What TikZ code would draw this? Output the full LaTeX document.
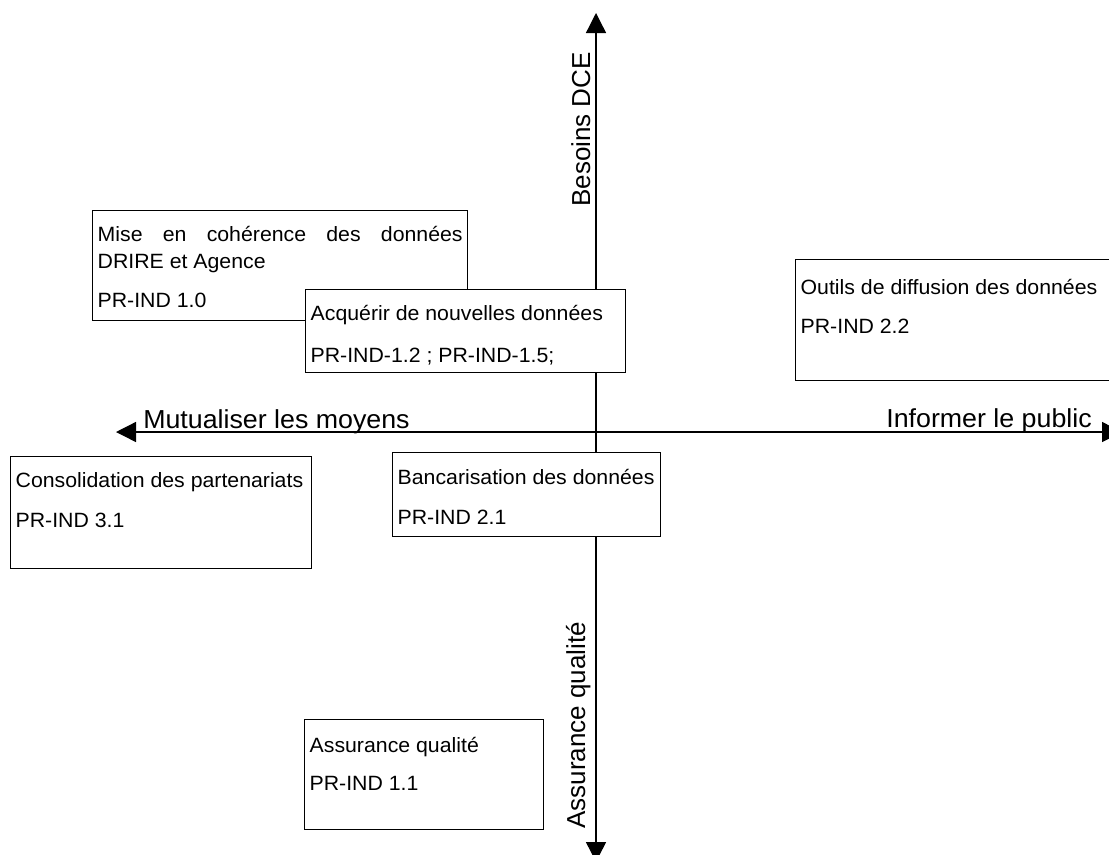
\documentclass[tikz,border=0pt]{standalone}
\usepackage{fontspec}
\setmainfont{Liberation Sans}
\newfontfamily\largefont[FakeStretch=1.03]{Liberation Sans}
\usepackage{tikz}
\usetikzlibrary{arrows.meta}

\newlength{\pxu}
\setlength{\pxu}{0.75pt}
% text block of a box: width, height, first baseline, lines
\newcommand{\cadretexte}[4]{\begin{minipage}[t][#2\pxu][t]{#1\pxu}\rule{0pt}{#3\pxu}#4\end{minipage}}

\begin{document}
\begin{tikzpicture}[
                x=0.75pt, y=-0.75pt, % pixel grid, y going down
                axe/.style={line width=1pt, >={Triangle[length=15pt,width=15pt]}, <->}, % axes with two heads
                cadre/.style={draw, line width=1pt, fill=white, anchor=north west, inner xsep=3.75pt, inner ysep=0pt, font=\largefont\fontsize{15.5}{20.25}\selectfont}, % text boxes
                etiquette/.style={inner sep=0pt, font=\fontsize{19.5}{23}\selectfont} % axis labels
                ]
                \useasboundingbox (0,0) rectangle (1109,854);
                \clip (0,0) rectangle (1109,854);

                % axes
                \coordinate (haut) at (596,13);
                \coordinate (bas) at (596,862);
                \coordinate (gauche) at (116,432);
                \coordinate (droite) at (1122,432);
                \draw[axe] (bas) -- (haut);
                \draw[axe] (gauche) -- (droite);

                \node[etiquette, font=\largefont\fontsize{19.5}{23}\selectfont, anchor=base west] (mutualiser) at (143,428) {Mutualiser les moyens};
                \node[etiquette, font=\largefont\fontsize{19.5}{23}\selectfont, anchor=base east] (informer) at (1092,427) {Informer le public};
                \node[etiquette, rotate=90, anchor=base west] (besoins) at (590,207) {Besoins DCE};
                \node[etiquette, rotate=90, anchor=base west] (assurance) at (585,829) {Assurance qualité};

                % boxes
                \node[cadre] (coherence) at (92,210) {\cadretexte{365}{110}{30.5}{\makebox[365\pxu][s]{Mise en cohérence des données}\\ DRIRE et Agence\\[12.5\pxu] PR-IND 1.0}};
                \node[cadre] (acquerir) at (305,289) {\cadretexte{310}{83}{31}{\mbox{Acquérir de nouvelles données}\\[15\pxu] \mbox{PR-IND-1.2 ; PR-IND-1.5;}}};
                \node[cadre] (outils) at (795,259) {\cadretexte{310}{121}{35}{\mbox{Outils de diffusion des données}\\[12\pxu] PR-IND 2.2}};
                \node[cadre] (consolidation) at (10,456) {\cadretexte{291}{112}{31}{\mbox{Consolidation des partenariats}\\[13\pxu] PR-IND 3.1}};
                \node[cadre] (bancarisation) at (392,452) {\cadretexte{258}{84}{32}{\mbox{Bancarisation des données}\\[13\pxu] PR-IND 2.1}};
                \node[cadre] (qualite) at (304,719) {\cadretexte{229}{110}{33}{Assurance qualité\\[11\pxu] PR-IND 1.1}};
            \end{tikzpicture}
\end{document}
